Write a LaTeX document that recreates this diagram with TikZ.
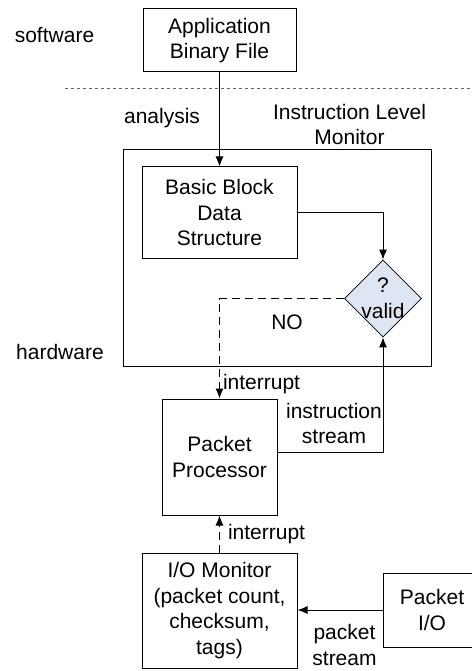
\documentclass[tikz,border=0pt]{standalone}
\usepackage{fontspec}
\setmainfont{Liberation Sans}
\usetikzlibrary{arrows.meta,shapes.geometric}

\begin{document}
\begin{tikzpicture}[x=1pt,y=-1pt, >={Latex[length=10pt,width=8pt]},
        every node/.append style={font=\fontsize{21}{25.5}\selectfont, align=center}]
      \tikzstyle{block} = [draw, line width=1pt, inner sep=0pt]
      \tikzstyle{label} = [inner sep=0pt]
      \tikzstyle{flow} = [->, line width=1pt]
      \tikzstyle{alarm} = [->, line width=1pt, dash pattern=on 8pt off 5pt]
      \useasboundingbox (0,0) rectangle (471,671);
      % software side
      \node (software) [label] at (54.5,35) {software};
      \node (app) [block, minimum width=153pt, minimum height=63pt] at (219.5,40.5) {Application\\Binary File};
      \draw [dashed, line width=0.6pt, gray!80!black] (65,88) -- (471,88);
      \node (hardware) [label] at (60,352) {hardware};
      % instruction level monitor
      \node (ilm) [block, minimum width=308pt, minimum height=216pt] at (277,258) {};
      \node (ilmtitle) [label] at (349.5,124.5) {Instruction Level\\Monitor};
      \node (bbds) [block, minimum width=155pt, minimum height=91pt] at (219.5,212.5) {Basic Block\\Data\\Structure};
      \node (valid) [draw, line width=0.8pt, diamond, fill={rgb,255:red,221;green,230;blue,242},
        minimum width=77pt, minimum height=77pt, inner sep=0pt] at (383,298.5) {};
      \node (validtxt) [label] at (383,298.5) {?\\valid};
      \node (no) [label] at (287,322) {NO};
      % processor and io
      \node (pp) [block, minimum width=115pt, minimum height=116pt] at (219.5,457) {Packet\\Processor};
      \node (iom) [block, minimum width=155pt, minimum height=115pt] at (219.5,610.5) {I/O Monitor\\(packet count,\\checksum,\\tags)};
      \node (pio) [block, minimum width=98pt, minimum height=74pt] at (432,610) {Packet\\I/O};
      % connectors
      \draw [flow] (app) -- node [label, left=19pt, pos=0.48] (analysis) {analysis} (bbds);
      \draw [flow] (bbds.east |- 0,212) -| (valid.north);
      \draw [alarm] (valid.west) -| (pp.north) node [label, pos=0.93, right=3pt] (int1) {interrupt};
      \draw [flow] (pp.east |- 0,452) -| (valid.south);
      \node (instr) [label] at (334,423.5) {instruction\\stream};
      \draw [alarm] (iom) -- node [label, right=8pt, pos=0.5] (int2) {interrupt} (pp);
      \draw [flow] (pio.west |- 0,610) -- (iom.east |- 0,610);
      \node (pstream) [label] at (344.5,645) {packet\\stream};
\end{tikzpicture}
\end{document}
